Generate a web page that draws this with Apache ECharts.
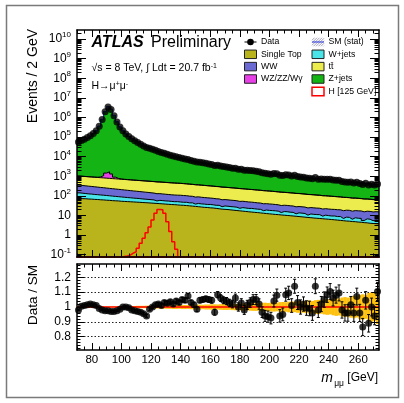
<!DOCTYPE html>
<html>
<head>
<meta charset="utf-8">
<script src="https://cdn.jsdelivr.net/npm/echarts@6/dist/echarts.min.js"></script>
<style>
  html, body { margin: 0; padding: 0; background: #fff; }
  #chart { width: 404px; height: 403px; }
</style>
</head>
<body>
<div id="chart"></div>
<script>
// Dimuon invariant mass, 2 GeV bins from 70 to 274 GeV
const massLow = 70, massHigh = 274, binWidth = 2;

// Background expectations per bin (events / 2 GeV), stacked bottom to top
const singleTop = [
  74, 72, 71, 69, 68,   66, 65, 63, 62, 60,   59, 57, 56, 55, 53,   52, 51, 50, 49, 48,
  47, 46, 45, 44, 43,   42, 41, 40, 39, 38,   37, 36, 35.5, 34.5, 33.5,   33, 32, 31, 30, 29,
  28, 27, 26, 25.5, 24.5,   24, 23, 22, 21, 20.5,   20, 19.2, 18.5, 17.8, 17.2,   16.6, 16, 15.4, 14.9, 14.4,
  14, 13.5, 13, 12.5, 12.1,   11.7, 11.3, 11, 10.6, 10.3,   10, 9.7, 9.4, 9.1, 8.8,   8.5, 8.2, 7.9, 7.7, 7.4,
  7.2, 7.0, 6.8, 6.6, 6.4,   6.2, 6.0, 5.8, 5.6, 5.4,   5.2, 5.1, 4.9, 4.8, 4.6,   4.5, 4.3, 4.2, 4.0, 3.9,
  3.8, 3.7
];
const wJets = [
  68, 64, 60, 57, 55,   52, 50, 48, 46, 44,   42, 40, 38, 36, 35,   33, 31, 30, 28, 27,
  26, 24, 23, 22, 21,   20, 14, 19, 18, 17,   17, 16, 15, 16, 15,   14, 15, 13, 14, 9,
  13, 12, 12, 11, 12,   11, 10, 11, 7, 10,   9.5, 9, 9, 8.5, 6,   8.5, 8, 7.5, 8, 7.5,
  7, 7, 4.5, 6.5, 6,   6, 6, 5.5, 3.5, 5.5,   5.5, 5, 5, 3, 4.8,   4.6, 4.4, 2.5, 4.2, 4,
  3.9, 4, 2.4, 3.8, 3.4,   3.2, 3.4, 3, 3.2, 1.6,   3, 2.9, 1.5, 2.8, 2.6,   2.6, 1.2, 2.5, 2.4, 1.5,
  2.2, 2.0
];
const ww = [
  210, 200, 193, 186, 179,   172, 165, 158, 152, 146,   140, 135, 130, 125, 120,   115, 111, 106, 102, 98,
  94, 91, 87, 84, 80,   77, 74, 71, 68, 66,   63, 61, 60, 58, 59,   57, 55, 53, 51, 49,
  48, 46, 44, 43, 41,   40, 38, 37, 35, 34,   33, 32, 31, 30, 29,   28, 27, 26, 25, 24,
  23, 22.5, 22, 21, 20.5,   20, 19, 18.5, 18, 17.5,   17, 16.5, 16, 15.5, 15,   14.6, 14.2, 13.8, 13.4, 13,
  12.7, 12.4, 12.1, 11.8, 11.5,   11.2, 11, 10.8, 10.7, 10.5,   10.4, 10.3, 10.2, 10.1, 10,   9.9, 9.8, 9.8, 9.7, 9.7,
  9.6, 9.6
];
const ttbar = [
  668, 654, 640, 627, 614,   601, 588, 576, 564, 552,   540, 529, 518, 507, 496,   486, 476, 466, 456, 446,
  437, 428, 419, 410, 401,   393, 385, 377, 369, 361,   353, 346, 339, 332, 325,   316, 307, 298, 289, 281,
  273, 265, 258, 250, 243,   236, 229, 223, 216, 210,   204, 198, 193, 187, 182,   176, 171, 166, 162, 157,
  153, 148, 144, 140, 136,   132, 128, 124, 121, 117,   114, 111, 108, 105, 102,   99, 96, 93, 90, 88,
  85, 83, 80, 78, 76,   74, 72, 70, 68, 66,   64, 62, 60, 58.5, 57,   55, 53.5, 52, 50.5, 49,
  47.5, 46
];
const wzzzwg = [
  8, 8, 9, 10, 12,   15, 25, 80, 250, 650,   900, 550, 160, 55, 25,   15, 12, 11, 10, 9.5,
  9, 8.5, 8, 7.6, 7.2,   6.8, 6.5, 6.2, 6, 5.7,   5.5, 5.3, 5.1, 4.9, 4.7,   4.5, 4.4, 4.3, 4.2, 4.1,
  4, 3.9, 3.8, 3.7, 3.6,   3.5, 3.4, 3.3, 3.2, 3.1,   3, 2.95, 2.9, 2.85, 2.8,   2.75, 2.7, 2.65, 2.6, 2.55,
  2.5, 2.45, 2.4, 2.35, 2.3,   2.25, 2.2, 2.15, 2.1, 2.05,   2, 1.97, 1.94, 1.91, 1.88,   1.85, 1.82, 1.79, 1.76, 1.73,
  1.7, 1.68, 1.66, 1.64, 1.62,   1.6, 1.58, 1.56, 1.54, 1.52,   1.5, 1.48, 1.46, 1.44, 1.42,   1.4, 1.38, 1.36, 1.34, 1.32,
  1.3, 1.28
];
const zJets = [
  56500, 65000, 76600, 92300, 114000,   147000, 208000, 354000, 793000, 2000000,
  3550000, 2630000, 1260000, 602000, 330000,   208000, 144000, 106000, 82500, 65400,
  53100, 44100, 36600, 31000, 26900,   23500, 20400, 17700, 15700, 14000,
  12400, 11000, 10000, 9080, 8250,   7520, 6830, 6350, 5770, 5360,
  5000, 4650, 4330, 4030, 3740,   3490, 3320, 3090, 2870, 2740,
  2550, 2430, 2260, 2160, 2060,   1960, 1870, 1780, 1700, 1620,
  1540, 1470, 1390, 1330, 1270,   1210, 1150, 1100, 1040, 995,
  951, 925, 879, 840, 799,   783, 745, 709, 693, 659,
  648, 616, 602, 573, 560,   534, 522, 496, 485, 462,
  453, 431, 420, 400, 391,   373, 364, 346, 337, 321,
  313, 300
];

// Signal, mH = 125 GeV, bins starting at 96 GeV
const higgsFrom = 96;
const higgs = [
  0.06, 0.07, 0.08, 0.085, 0.095, 0.12, 0.14, 0.21, 0.38, 0.68, 1.3,
  2.6, 5.9, 12.9, 20.4, 19.5, 12.9, 4.8, 1.5, 0.46, 0.19, 0.05
];

// Data / SM per bin, its statistical error, and the relative MC stat error of the SM
const ratioData = [
  0.98, 1.005, 1.01, 1.015, 1.02,   1.015, 1.01, 0.99, 0.98, 0.975,   0.975, 0.97, 0.97, 0.975, 0.985,   1.0, 1.0, 0.995, 0.98, 0.975,
  0.97, 0.965, 0.955, 0.94, 0.985,   1.0, 1.015, 1.02, 1.01, 1.03,   1.025, 1.035, 1.02, 1.04, 1.03,   1.05, 1.045, 1.075, 1.03, 1.015,
  0.985, 1.045, 1.05, 1.055, 1.05,   1.045, 0.965, 1.083, 1.06, 1.045,   1.04, 1.027, 1.02, 1.06, 1.0,   1.027, 0.98, 1.014, 1.03, 1.05,
  1.05, 1.02, 0.965, 0.94, 0.935,   0.925, 1.04, 1.08, 0.94, 0.95,   1.083, 1.095, 1.01, 1.14, 1.03,   1.0, 1.02, 0.993, 0.99, 0.96,
  1.14, 0.98, 1.02, 1.05, 1.083,   1.105, 1.06, 1.08, 1.095, 0.98,   0.96, 0.96, 1.015, 0.96, 1.07,   0.96, 0.865, 1.045, 0.89, 1.0,
  0.94, 1.105
];
const ratioErr = [
  0.005, 0.005, 0.005, 0.005, 0.005,   0.005, 0.005, 0.005, 0.005, 0.005,   0.005, 0.005, 0.005, 0.005, 0.005,   0.006, 0.007, 0.008, 0.008, 0.008,
  0.009, 0.009, 0.009, 0.01, 0.01,   0.01, 0.011, 0.011, 0.012, 0.012,   0.012, 0.013, 0.013, 0.014, 0.014,   0.014, 0.015, 0.015, 0.015, 0.016,
  0.016, 0.017, 0.017, 0.017, 0.018,   0.019, 0.02, 0.021, 0.022, 0.023,   0.024, 0.025, 0.026, 0.027, 0.028,   0.029, 0.03, 0.031, 0.032, 0.033,
  0.034, 0.035, 0.036, 0.037, 0.038,   0.039, 0.04, 0.041, 0.042, 0.043,   0.044, 0.045, 0.046, 0.047, 0.047,   0.048, 0.048, 0.049, 0.049, 0.05,
  0.05, 0.051, 0.051, 0.052, 0.052,   0.053, 0.053, 0.054, 0.054, 0.055,   0.055, 0.056, 0.056, 0.057, 0.057,   0.058, 0.058, 0.059, 0.059, 0.06,
  0.06, 0.061
];
const smStatErr = [
  0.006, 0.006, 0.006, 0.005, 0.005,   0.005, 0.005, 0.004, 0.004, 0.004,   0.004, 0.004, 0.004, 0.005, 0.005,   0.005, 0.006, 0.006, 0.007, 0.007,
  0.008, 0.008, 0.008, 0.009, 0.009,   0.01, 0.01, 0.01, 0.011, 0.011,   0.012, 0.012, 0.013, 0.013, 0.012,   0.014, 0.014, 0.013, 0.015, 0.015,
  0.016, 0.016, 0.015, 0.017, 0.017,   0.018, 0.018, 0.017, 0.019, 0.02,   0.02, 0.019, 0.021, 0.022, 0.021,   0.023, 0.024, 0.022, 0.025, 0.026,
  0.026, 0.025, 0.028, 0.029, 0.027,   0.03, 0.031, 0.029, 0.033, 0.034,   0.032, 0.036, 0.037, 0.035, 0.039,   0.04, 0.038, 0.042, 0.044, 0.041,
  0.046, 0.048, 0.045, 0.05, 0.053,   0.05, 0.056, 0.06, 0.057, 0.064,   0.067, 0.063, 0.072, 0.076, 0.071,   0.082, 0.086, 0.08, 0.095, 0.1,
  0.094, 0.115
];

// Axis labels
const massLabels = [80, 100, 120, 140, 160, 180, 200, 220, 240, 260];
const ratioLabels = [0.8, 0.9, 1, 1.1, 1.2];
const decades = [-1, 0, 1, 2, 3, 4, 5, 6, 7, 8, 9, 10];

// Sample colours
const colours = {
  singleTop: '#b9b41c', wJets: '#48e4e8', ww: '#6a6ad2', wzzzwg: '#e640e6',
  ttbar: '#ecec4e', zJets: '#14b414', higgs: '#ff0000', band: '#ffc10e'
};

// ---------------------------------------------------------------------------
const nBins = Math.round((massHigh - massLow) / binWidth);
const edges = Array.from({ length: nBins + 1 }, (_, i) => massLow + i * binWidth);
const centers = edges.slice(0, nBins).map(e => e + binWidth / 2);

const yMin = 0.076, yMax = 2.9e10;
const rMin = 0.71, rMax = 1.29;
const FONT = 'Liberation Sans, Arial, Helvetica, sans-serif';

// cumulative stack
const layers = [singleTop, wJets, ww, ttbar, wzzzwg, zJets];
const layerColours = [colours.singleTop, colours.wJets, colours.ww, colours.ttbar, colours.wzzzwg, colours.zJets];
const cumulative = [];
layers.forEach((arr, k) => {
  cumulative.push(arr.map((v, i) => v + (k ? cumulative[k - 1][i] : 0)));
});
const totalSM = cumulative[cumulative.length - 1];

function stepPoints(values, firstEdgeIndex) {
  const pts = values.map((v, i) => [edges[firstEdgeIndex + i], v]);
  pts.push([edges[firstEdgeIndex + values.length], values[values.length - 1]]);
  return pts;
}

// tick positions
const majorMass = massLabels;
const minorMass = [];
for (let m = massLow; m <= massHigh; m += 5) if (m % 20 !== 0) minorMass.push(m);
const majorLog = decades.map(k => Math.pow(10, k));
const minorLog = [];
for (let k = -2; k <= 10; k++) for (let m = 2; m <= 9; m++) {
  const v = m * Math.pow(10, k);
  if (v > yMin && v < yMax) minorLog.push(v);
}
const minorRatio = [];
for (let i = 36; i <= 64; i++) { if (i % 5 !== 0) minorRatio.push(i / 50); }

function xAxisDef(grid, position, ticks, len, withLine, labels, lineColour) {
  return {
    type: 'value', gridIndex: grid, position, min: massLow, max: massHigh, z: 6,
    axisLine: { show: withLine, onZero: false, lineStyle: { color: lineColour || '#000', width: lineColour ? 2 : 1.5 } },
    axisTick: { show: true, inside: true, length: len, customValues: ticks, lineStyle: { color: '#000', width: 1 } },
    axisLabel: labels ? { show: true, customValues: labels, color: '#000', fontSize: 11.5, fontFamily: FONT, margin: 4 } : { show: false },
    splitLine: { show: false }
  };
}
function yAxisDef(grid, position, type, min, max, ticks, len, withLine, labelCfg) {
  return {
    type, gridIndex: grid, position, min, max, z: 6,
    axisLine: { show: withLine, onZero: false, lineStyle: { color: '#000', width: 1.5 } },
    axisTick: { show: true, inside: true, length: len, customValues: ticks, lineStyle: { color: '#000', width: 1 } },
    axisLabel: labelCfg || { show: false },
    splitLine: { show: false }
  };
}

const logLabel = {
  show: true, customValues: majorLog, color: '#000', fontSize: 12, fontFamily: FONT, margin: 6,
  formatter: v => {
    const k = Math.round(Math.log10(v));
    if (k === 0) return '1';
    if (k === 1) return '10';
    return '{b|10}{s|' + k + '}';
  },
  rich: {
    b: { fontSize: 12, fontFamily: FONT, color: '#000', lineHeight: 16 },
    s: { fontSize: 8, fontFamily: FONT, color: '#000', lineHeight: 9, verticalAlign: 'top' }
  }
};
const ratioLabel = {
  show: true, customValues: ratioLabels, color: '#000', fontSize: 12, fontFamily: FONT, margin: 6,
  formatter: v => (Math.abs(v - 1) < 1e-9 ? '1' : v.toFixed(1))
};

const xAxes = [
  xAxisDef(0, 'bottom', majorMass, 7, true, null, '#2a0606'),
  xAxisDef(0, 'bottom', minorMass, 3.5, false),
  xAxisDef(0, 'top', majorMass, 7, true),
  xAxisDef(0, 'top', minorMass, 3.5, false),
  xAxisDef(1, 'bottom', majorMass, 7, true, massLabels),
  xAxisDef(1, 'bottom', minorMass, 3.5, false),
  xAxisDef(1, 'top', majorMass, 7, true),
  xAxisDef(1, 'top', minorMass, 3.5, false)
];
const yAxes = [
  yAxisDef(0, 'left', 'log', yMin, yMax, majorLog, 9, true, logLabel),
  yAxisDef(0, 'left', 'log', yMin, yMax, minorLog, 4.5, false),
  yAxisDef(0, 'right', 'log', yMin, yMax, majorLog, 9, true),
  yAxisDef(0, 'right', 'log', yMin, yMax, minorLog, 4.5, false),
  yAxisDef(1, 'left', 'value', rMin, rMax, ratioLabels, 7, true, ratioLabel),
  yAxisDef(1, 'left', 'value', rMin, rMax, minorRatio, 3.5, false),
  yAxisDef(1, 'right', 'value', rMin, rMax, ratioLabels, 7, true),
  yAxisDef(1, 'right', 'value', rMin, rMax, minorRatio, 3.5, false)
];

// main panel series: stacked histograms drawn from the top layer down
const series = [];
for (let k = cumulative.length - 1; k >= 0; k--) {
  series.push({
    type: 'line', name: 'stack' + k, xAxisIndex: 0, yAxisIndex: 0, step: 'end',
    showSymbol: false, symbol: 'none', data: stepPoints(cumulative[k], 0),
    lineStyle: { color: '#000', width: 1 },
    areaStyle: { color: layerColours[k], opacity: 1, origin: 'start' },
    z: 2
  });
}
series.push({
  type: 'line', name: 'SM (stat)', xAxisIndex: 0, yAxisIndex: 0, step: 'end', symbol: 'none',
  data: stepPoints(totalSM, 0), lineStyle: { color: '#2432d8', width: 1 }, z: 3
});
series.push({
  type: 'line', name: 'H [125 GeV]', xAxisIndex: 0, yAxisIndex: 0, step: 'end', symbol: 'none',
  data: stepPoints(higgs, Math.round((higgsFrom - massLow) / binWidth)),
  lineStyle: { color: colours.higgs, width: 1.5 }, z: 3
});
series.push({
  type: 'scatter', name: 'Data', xAxisIndex: 0, yAxisIndex: 0, symbol: 'circle', symbolSize: 7,
  itemStyle: { color: '#000' }, data: centers.map((c, i) => [c, totalSM[i] * ratioData[i]]), z: 4
});

// ratio panel
series.push({
  type: 'line', name: 'unity', xAxisIndex: 4, yAxisIndex: 4, symbol: 'none',
  data: [[massLow, 1], [massHigh, 1]], lineStyle: { color: '#000', width: 0 }, z: 1,
  markLine: {
    silent: true, symbol: 'none', label: { show: false }, animation: false,
    lineStyle: { color: '#222', width: 1, type: [1.5, 2] },
    data: [0.8, 0.9, 1.1, 1.2].map(v => ({ yAxis: v }))
  }
});
series.push({
  type: 'custom', name: 'SM stat band', xAxisIndex: 4, yAxisIndex: 4, clip: true, z: 2,
  data: centers.map((c, i) => [edges[i], edges[i + 1], 1 - smStatErr[i], 1 + smStatErr[i]]),
  encode: { x: [0, 1], y: [2, 3] },
  renderItem: (params, api) => {
    const a = api.coord([api.value(0), api.value(3)]);
    const b = api.coord([api.value(1), api.value(2)]);
    return { type: 'rect', shape: { x: a[0], y: a[1], width: b[0] - a[0] + 0.3, height: b[1] - a[1] },
             style: { fill: colours.band } };
  }
});
series.push({
  type: 'line', name: 'ratio one', xAxisIndex: 4, yAxisIndex: 4, symbol: 'none',
  data: [[massLow, 1], [massHigh, 1]], lineStyle: { color: '#ff0000', width: 1.5 }, z: 3
});
series.push({
  type: 'custom', name: 'ratio errors', xAxisIndex: 4, yAxisIndex: 4, clip: true, z: 4,
  data: centers.map((c, i) => [c, ratioData[i] - ratioErr[i], ratioData[i] + ratioErr[i]]),
  encode: { x: 0, y: [1, 2] },
  renderItem: (params, api) => {
    const x = api.value(0);
    const lo = api.coord([x, api.value(1)]);
    const hi = api.coord([x, api.value(2)]);
    const st = { stroke: '#000', lineWidth: 1 };
    return { type: 'group', children: [
      { type: 'line', shape: { x1: lo[0], y1: lo[1], x2: hi[0], y2: hi[1] }, style: st },
      { type: 'line', shape: { x1: hi[0] - 1.5, y1: hi[1], x2: hi[0] + 1.5, y2: hi[1] }, style: st },
      { type: 'line', shape: { x1: lo[0] - 1.5, y1: lo[1], x2: lo[0] + 1.5, y2: lo[1] }, style: st }
    ] };
  }
});
series.push({
  type: 'scatter', name: 'Data / SM', xAxisIndex: 4, yAxisIndex: 4, symbol: 'circle', symbolSize: 7,
  itemStyle: { color: '#000' }, data: centers.map((c, i) => [c, ratioData[i]]), z: 5
});

// legend and annotations
function box(x, yc, fill, stroke, lw) {
  return { type: 'rect', shape: { x, y: yc - 4.25, width: 12, height: 8.5 },
           style: { fill, stroke: stroke || '#222', lineWidth: lw || 1 } };
}
function label(x, yc, text, size) {
  return { type: 'text', x, y: yc, style: { text, fontSize: size || 8.7, fontFamily: FONT, fill: '#000', verticalAlign: 'middle' } };
}
const legendRows = [42, 54.3, 66.6, 79, 91.5];
const leftBox = 244.5, leftText = 261, rightBox = 312, rightText = 328.5;

const hatch = [];
{
  const x0 = rightBox, x1 = rightBox + 12, y0 = legendRows[0] - 4.25, y1 = legendRows[0] + 4.25, h = 8.5;
  for (let xs = x0 - h; xs < x1; xs += 2.5) {
    let ax = xs, ay = y1, bx = xs + h, by = y0;
    if (ax < x0) { ay = y1 - (x0 - ax); ax = x0; }
    if (bx > x1) { by = y0 + (bx - x1); bx = x1; }
    hatch.push({ type: 'line', shape: { x1: ax, y1: ay, x2: bx, y2: by }, style: { stroke: '#8a8aa8', lineWidth: 0.8 } });
  }
}

const graphics = [
  { type: 'rect', shape: { x: 6.5, y: 5.5, width: 392, height: 392 }, style: { fill: 'none', stroke: '#7a7a7a', lineWidth: 1.5 }, z: 100 },
  { type: 'text', x: 91.5, y: 43, style: { text: 'ATLAS', fontSize: 16, fontWeight: 'bold', fontStyle: 'italic', fontFamily: FONT, fill: '#000', verticalAlign: 'middle' } },
  { type: 'text', x: 151, y: 43, style: { text: 'Preliminary', fontSize: 16, fontFamily: FONT, fill: '#000', verticalAlign: 'middle' } },
  { type: 'text', x: 91.5, y: 68, style: {
      text: '√s = 8 TeV, ∫ Ldt = 20.7 fb{sup|-1}', fontSize: 10.5, fontFamily: FONT, fill: '#000', verticalAlign: 'middle',
      rich: { sup: { fontSize: 7, fontFamily: FONT, fill: '#000', verticalAlign: 'top', lineHeight: 8 } } } },
  { type: 'text', x: 91.5, y: 86, style: {
      text: 'H→μ{sup|+}μ{sup|-}', fontSize: 10.5, fontFamily: FONT, fill: '#000', verticalAlign: 'middle',
      rich: { sup: { fontSize: 7, fontFamily: FONT, fill: '#000', verticalAlign: 'top', lineHeight: 8 } } } },
  // legend, left column
  { type: 'line', shape: { x1: leftBox, y1: legendRows[0], x2: leftBox + 12, y2: legendRows[0] }, style: { stroke: '#000', lineWidth: 1 } },
  { type: 'circle', shape: { cx: leftBox + 6, cy: legendRows[0], r: 3.3 }, style: { fill: '#000' } },
  label(leftText, legendRows[0], 'Data'),
  box(leftBox, legendRows[1], colours.singleTop), label(leftText, legendRows[1], 'Single Top'),
  box(leftBox, legendRows[2], colours.ww), label(leftText, legendRows[2], 'WW'),
  box(leftBox, legendRows[3], colours.wzzzwg), label(leftText, legendRows[3], 'WZ/ZZ/Wγ'),
  // legend, right column
  ...hatch,
  { type: 'line', shape: { x1: rightBox, y1: legendRows[0], x2: rightBox + 12, y2: legendRows[0] }, style: { stroke: '#2432d8', lineWidth: 1 } },
  label(rightText, legendRows[0], 'SM (stat)'),
  box(rightBox, legendRows[1], colours.wJets), label(rightText, legendRows[1], 'W+jets'),
  box(rightBox, legendRows[2], colours.ttbar), label(rightText, legendRows[2], 'tt̄'),
  box(rightBox, legendRows[3], colours.zJets), label(rightText, legendRows[3], 'Z+jets'),
  box(rightBox, legendRows[4], '#fff', colours.higgs, 1.5), label(rightText, legendRows[4], 'H [125 GeV]'),
  // axis titles
  { type: 'text', x: 33, y: 29, rotation: Math.PI / 2, style: { text: 'Events / 2 GeV', fontSize: 14, fontFamily: FONT, fill: '#000', align: 'right', verticalAlign: 'middle' } },
  { type: 'text', x: 33, y: 265, rotation: Math.PI / 2, style: { text: 'Data / SM', fontSize: 13.5, fontFamily: FONT, fill: '#000', align: 'right', verticalAlign: 'middle' } },
  { type: 'text', x: 378, y: 378, style: { text: '[GeV]', fontSize: 12, fontFamily: FONT, fill: '#000', align: 'right', verticalAlign: 'middle' } },
  { type: 'text', x: 344, y: 383.5, style: { text: 'μμ', fontSize: 8.5, fontFamily: FONT, fill: '#000', align: 'right', verticalAlign: 'middle' } },
  { type: 'text', x: 333, y: 378, style: { text: 'm', fontSize: 14, fontStyle: 'italic', fontFamily: FONT, fill: '#000', align: 'right', verticalAlign: 'middle' } }
];

const chart = echarts.init(document.getElementById('chart'), null, { renderer: 'canvas' });
chart.setOption({
  animation: false,
  backgroundColor: '#fff',
  textStyle: { fontFamily: FONT },
  grid: [
    { left: 77, top: 30, width: 302, height: 227 },
    { left: 77, top: 264, width: 302, height: 86 }
  ],
  xAxis: xAxes,
  yAxis: yAxes,
  series,
  graphic: { elements: graphics }
});
</script>
</body>
</html>
